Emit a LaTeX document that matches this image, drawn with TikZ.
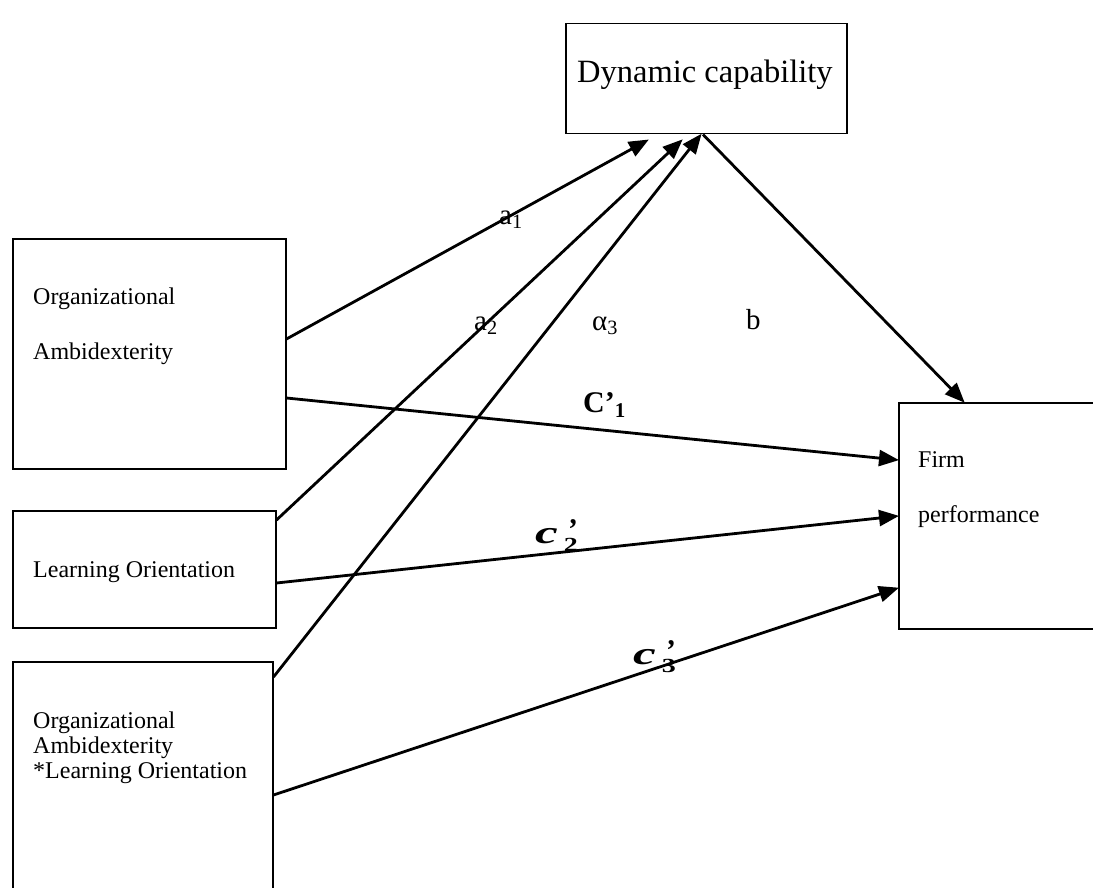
\documentclass[tikz,border=0pt]{standalone}
\usepackage{fontspec}
\usepackage{graphicx}
\setmainfont{Liberation Serif}
\usetikzlibrary{arrows.meta}
\newcommand{\cpr}[1]{\scalebox{1.6}[1]{\fontsize{32}{32}\selectfont\bfseries\itshape c}\kern6pt\makebox[0pt][l]{\kern3pt\raisebox{4pt}{\fontsize{30}{30}\selectfont\bfseries\itshape '}}\raisebox{-8pt}{\scalebox{1.4}[1]{\fontsize{20}{20}\selectfont\bfseries #1}}}
\begin{document}
\begin{tikzpicture}[x=1pt,y=-1pt,
  boxnode/.style={draw, line width=1.5pt, inner sep=0pt, anchor=north west},
  smalltxt/.style={anchor=base west, inner sep=0pt, font=\fontsize{24}{26}\selectfont},
  bigtxt/.style={anchor=base west, inner sep=0pt, font=\fontsize{32.5}{34}\selectfont},
  lbl/.style={anchor=base west, inner sep=0pt, font=\fontsize{29}{31}\selectfont},
  arr/.style={line width=2.8pt, -{Triangle[length=20pt,width=16pt]}, shorten >=-1pt}]
\useasboundingbox (0,0) rectangle (1093,888);
% boxes
\node[boxnode, minimum width=281pt, minimum height=110pt] (dc) at (565,23) {};
\node[boxnode, minimum width=273pt, minimum height=230pt] (oa) at (12,238) {};
\node[boxnode, minimum width=263pt, minimum height=117pt] (lo) at (12,510) {};
\node[boxnode, minimum width=260pt, minimum height=240pt] (oalo) at (12,661) {};
\node[boxnode, minimum width=220pt, minimum height=226pt] (fp) at (898,402) {};
% texts
\node[bigtxt] (dct) at (577,83) {Dynamic capability};
\node[smalltxt] (oat1) at (33,304) {Organizational};
\node[smalltxt] (oat2) at (33,359) {Ambidexterity};
\node[smalltxt] (lot) at (33,577) {Learning Orientation};
\node[smalltxt] (ot1) at (33,728) {Organizational};
\node[smalltxt] (ot2) at (33,753) {Ambidexterity};
\node[smalltxt] (ot3) at (33,778) {*Learning Orientation};
\node[smalltxt] (fpt1) at (918,467) {Firm};
\node[smalltxt] (fpt2) at (918,522) {performance};
% arrows
\draw[arr] (oa.east |- 0,339) -- (648,140);
\draw[arr] (lo.north east |- 0,520) -- (682,140);
\draw[arr] (oalo.north east |- 0,677) -- (dc.south -| 701,0);
\draw[arr] (dc.south -| 703,0) -- (fp.north -| 964,0);
\draw[arr] (oa.east |- 0,398) -- (fp.west |- 0,460);
\draw[arr] (lo.east |- 0,583) -- (fp.west |- 0,516);
\draw[arr] (oalo.east |- 0,795) -- (fp.west |- 0,588);
% labels
\node[lbl] (la1) at (499,224) {a\textsubscript{1}};
\node[lbl] (la2) at (474,330) {a\textsubscript{2}};
\node[lbl] (la3) at (592,330) {α\textsubscript{3}};
\node[lbl] (lb) at (746,329) {b};
\node[lbl, font=\fontsize{30}{32}\selectfont\bfseries] (lc1) at (583,412) {C’\textsubscript{1}};
\node[lbl] (lc2) at (535,543) {\cpr{2}};
\node[lbl] (lc3) at (633,664) {\cpr{3}};
\end{tikzpicture}
\end{document}
